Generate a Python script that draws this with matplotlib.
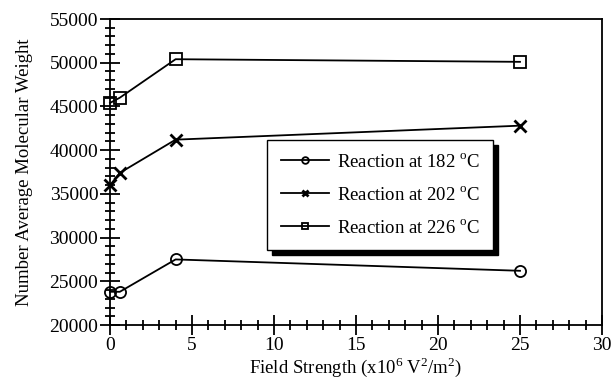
import matplotlib.pyplot as plt
from matplotlib.ticker import MultipleLocator

plt.rcParams['font.family'] = ['Liberation Serif', 'DejaVu Serif']
plt.rcParams['mathtext.fontset'] = 'custom'
plt.rcParams['mathtext.rm'] = 'Liberation Serif'

# ========== Data ==========
field = [0, 0.6, 4, 25]
mw_182 = [23800, 23800, 27500, 26200]
mw_202 = [36000, 37400, 41200, 42800]
mw_226 = [45400, 46000, 50400, 50100]
labels = ['Reaction at 182 $^\\mathrm{o}$C',
          'Reaction at 202 $^\\mathrm{o}$C',
          'Reaction at 226 $^\\mathrm{o}$C']

fig = plt.figure(figsize=(6.12, 3.81), dpi=100)
ax = fig.add_axes([110 / 612, 1 - 325 / 381, 492 / 612, 306 / 381])

style = dict(color='black', lw=1.3, ms=8, clip_on=False, zorder=3)
ax.plot(field, mw_182, '-', marker='o', mfc='none', mec='black', mew=1.3,
        label=labels[0], **style)
ax.plot(field, mw_202, '-', marker='x', mew=2, label=labels[1], **style)
ax.plot(field, mw_226, '-', marker='s', mfc='none', mec='black', mew=1.3,
        label=labels[2], **style)

ax.set_xlim(0, 30)
ax.set_ylim(20000, 55000)
ax.xaxis.set_major_locator(MultipleLocator(5))
ax.xaxis.set_minor_locator(MultipleLocator(1))
ax.yaxis.set_major_locator(MultipleLocator(5000))
ax.yaxis.set_minor_locator(MultipleLocator(1000))
ax.tick_params(which='major', direction='inout', length=15, width=1.3,
               labelsize=14, top=False, right=False, pad=1)
ax.tick_params(which='minor', direction='inout', length=7, width=1.3,
               top=False, right=False)
for s in ax.spines.values():
    s.set_linewidth(1.3)

ax.set_xlabel('Field Strength (x10$^6$ V$^2$/m$^2$)', fontsize=13.5,
              labelpad=1)
ax.set_ylabel('Number Average Molecular Weight', fontsize=13.5, labelpad=12)

leg = ax.legend(loc='upper left', bbox_to_anchor=(0.32, 0.605),
                fontsize=13.5, frameon=True, fancybox=False, markerscale=0.6,
                shadow={'color': 'black', 'alpha': 1, 'ox': 3.5, 'oy': -3.5},
                handlelength=2.6, handletextpad=0.4, labelspacing=0.8,
                borderpad=0.7, borderaxespad=0, edgecolor='black')
leg.get_frame().set_linewidth(1.0)

fig.savefig('out.png', dpi=100)
